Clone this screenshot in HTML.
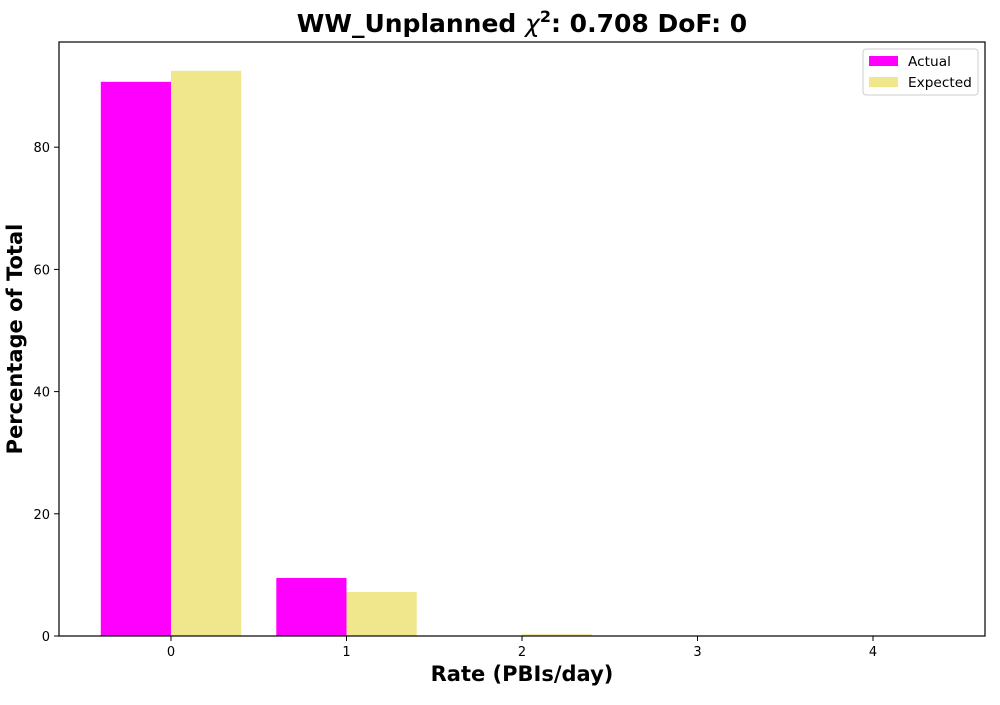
<!DOCTYPE html>
<html><head><meta charset="utf-8"><style>
body{margin:0;background:#fff;font-family:"Liberation Sans","DejaVu Sans",sans-serif}
</style></head><body>
<svg id="chart" width="1000" height="700" xmlns="http://www.w3.org/2000/svg">
<text x="522" y="32" text-anchor="middle" font-size="25" font-weight="bold" font-family="DejaVu Sans, sans-serif">WW_Unplanned <tspan font-style="italic" font-weight="normal">χ</tspan><tspan font-size="16" dy="-10">2</tspan><tspan dy="10">: 0.708 DoF: 0</tspan></text>
<g id="plot"></g>
<rect x="59" y="42" width="926" height="594" fill="none" stroke="#000" stroke-width="1.2"/>
<text x="522" y="681" text-anchor="middle" font-size="21" font-weight="bold" font-family="DejaVu Sans, sans-serif">Rate (PBIs/day)</text>
<text transform="translate(22,339) rotate(-90)" text-anchor="middle" font-size="21" font-weight="bold" font-family="DejaVu Sans, sans-serif">Percentage of Total</text>
<g>
<rect x="863" y="49" width="115" height="46" fill="#fff" stroke="#ccc" rx="3"/>
<rect x="869" y="56" width="29" height="10" fill="#ff00ff"/>
<text x="908" y="66" font-size="13.7" font-family="DejaVu Sans, sans-serif">Actual</text>
<rect x="869" y="77" width="29" height="10" fill="#f0e68c"/>
<text x="908" y="87" font-size="13.7" font-family="DejaVu Sans, sans-serif">Expected</text>
</g>
</svg>
<script>
const categories=[0,1,2,3,4];
const actual=[90.7,9.5,0,0,0];
const expected=[92.5,7.2,0.3,0,0];
const yTicks=[0,20,40,60,80];
const NS="http://www.w3.org/2000/svg";
const g=document.getElementById('plot');
const xs=v=>171+v*175.5;
const ys=v=>636-v*6.11;
function mk(t,a){const e=document.createElementNS(NS,t);for(const k in a)e.setAttribute(k,a[k]);g.appendChild(e);return e;}
categories.forEach((c,i)=>{
  const a=mk('rect',{x:xs(c-0.4),y:ys(actual[i]),width:xs(0.4)-xs(0),height:ys(0)-ys(actual[i]),fill:'#ff00ff'});
  
  
  const b=mk('rect',{x:xs(c),y:ys(expected[i]),width:xs(0.4)-xs(0),height:ys(0)-ys(expected[i]),fill:'#f0e68c'});
  
  
  const t=mk('line',{x1:xs(c),x2:xs(c),y1:636,y2:641,stroke:'#000'});
  
  
  const l=mk('text',{x:xs(c),y:656,'text-anchor':'middle','font-size':13,'font-family':'DejaVu Sans, sans-serif'});
  l.textContent=c;
  
  
});
yTicks.forEach(v=>{
  const t=mk('line',{x1:54,x2:59,y1:ys(v),y2:ys(v),stroke:'#000'});
  
  
  const l=mk('text',{x:50,y:ys(v)+5,'text-anchor':'end','font-size':13,'font-family':'DejaVu Sans, sans-serif'});
  l.textContent=v;
  
  
});
</script>
</body></html>
